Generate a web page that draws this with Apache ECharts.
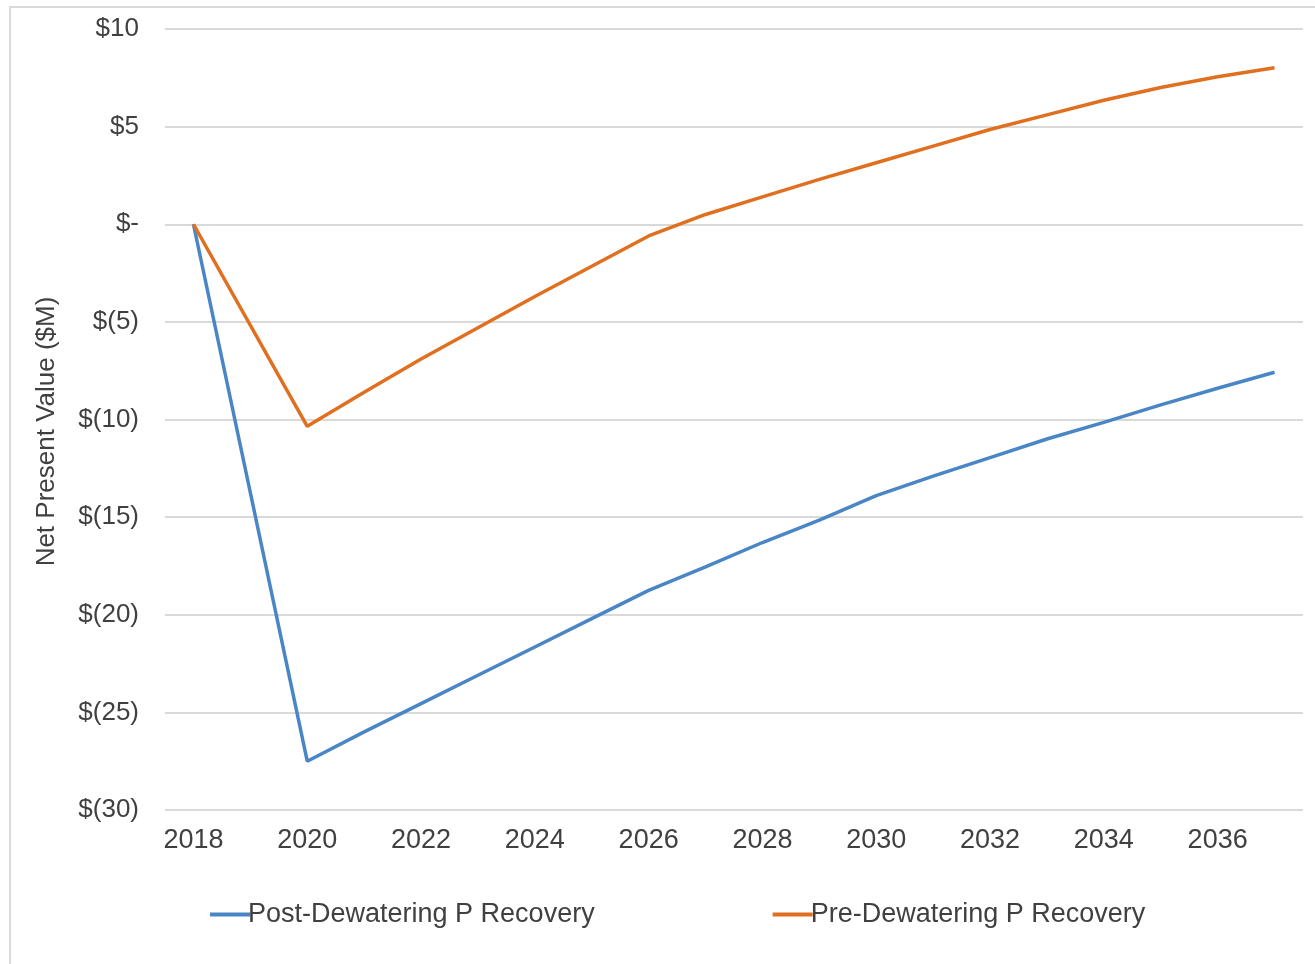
<!DOCTYPE html>
<html>
<head>
<meta charset="utf-8">
<script src="https://cdn.jsdelivr.net/npm/echarts@6/dist/echarts.min.js"></script>
<style>
html, body { margin: 0; padding: 0; background: #fff; }
#chart { width: 1315px; height: 964px; }
</style>
</head>
<body>
<div id="chart"></div>
<script>
var years = ['2018', '2019', '2020', '2021', '2022', '2023', '2024', '2025', '2026', '2027',
	'2028', '2029', '2030', '2031', '2032', '2033', '2034', '2035', '2036', '2037'];
// 2019 has no point in the source, the line just runs straight through
var postDewatering = [0, null, -27.5, -26.0, -24.55, -23.1, -21.65, -20.2, -18.75, -17.55,
	-16.3, -15.15, -13.9, -12.9, -11.95, -11.0, -10.15, -9.25, -8.4, -7.58];
var preDewatering = [0, null, -10.35, -8.6, -6.9, -5.3, -3.7, -2.15, -0.6, 0.5,
	1.4, 2.3, 3.15, 4.0, 4.85, 5.6, 6.35, 7.0, 7.55, 8.02];
var seriesNames = ['Post-Dewatering P Recovery', 'Pre-Dewatering P Recovery'];

function money(v) {
	if (v === 0) {
		return '$-';
	}
	if (v < 0) {
		return '$(' + (-v) + ')';
	}
	return '$' + v;
}

var myChart = echarts.init(document.getElementById('chart'));
var option = {
	backgroundColor: '#fff',
	textStyle: {
		fontFamily: 'Liberation Sans, Arial, sans-serif'
	},
	graphic: [
		{
			type: 'rect',
			shape: { x: 10, y: 7, width: 1320, height: 1000 },
			style: { fill: 'none', stroke: '#d9d9d9', lineWidth: 2 }
		}
	],
	grid: {
		left: 165,
		right: 12,
		top: 29,
		bottom: 154
	},
	legend: {
		left: 205,
		top: 896,
		itemGap: 178,
		itemWidth: 40,
		itemHeight: 4,
		icon: 'rect',
		data: seriesNames,
		textStyle: {
			fontSize: 27,
			color: '#404040',
			padding: [0, 0, 0, -7]
		}
	},
	xAxis: {
		type: 'category',
		data: years,
		boundaryGap: true,
		axisLine: { show: false },
		axisTick: { show: false },
		axisLabel: {
			interval: 1,
			margin: 17,
			fontSize: 27,
			color: '#404040'
		}
	},
	yAxis: {
		type: 'value',
		min: -30,
		max: 10,
		interval: 5,
		name: 'Net Present Value ($M)',
		nameLocation: 'middle',
		nameRotate: 90,
		nameGap: 105,
		nameTextStyle: {
			fontSize: 26,
			color: '#404040',
			padding: [0, 0, 0, -24]
		},
		axisLine: { show: false },
		axisTick: { show: false },
		axisLabel: {
			margin: 26,
			fontSize: 26,
			color: '#404040',
			formatter: money
		},
		splitLine: {
			lineStyle: { color: '#d9d9d9', width: 2 }
		}
	},
	series: [
		{
			name: seriesNames[0],
			type: 'line',
			data: postDewatering,
			connectNulls: true,
			showSymbol: false,
			color: '#4a86c6',
			lineStyle: { width: 3.5, color: '#4a86c6' }
		},
		{
			name: seriesNames[1],
			type: 'line',
			data: preDewatering,
			connectNulls: true,
			showSymbol: false,
			color: '#e0701f',
			lineStyle: { width: 3.5, color: '#e0701f' }
		}
	]
};
myChart.setOption(option);
</script>
</body>
</html>
